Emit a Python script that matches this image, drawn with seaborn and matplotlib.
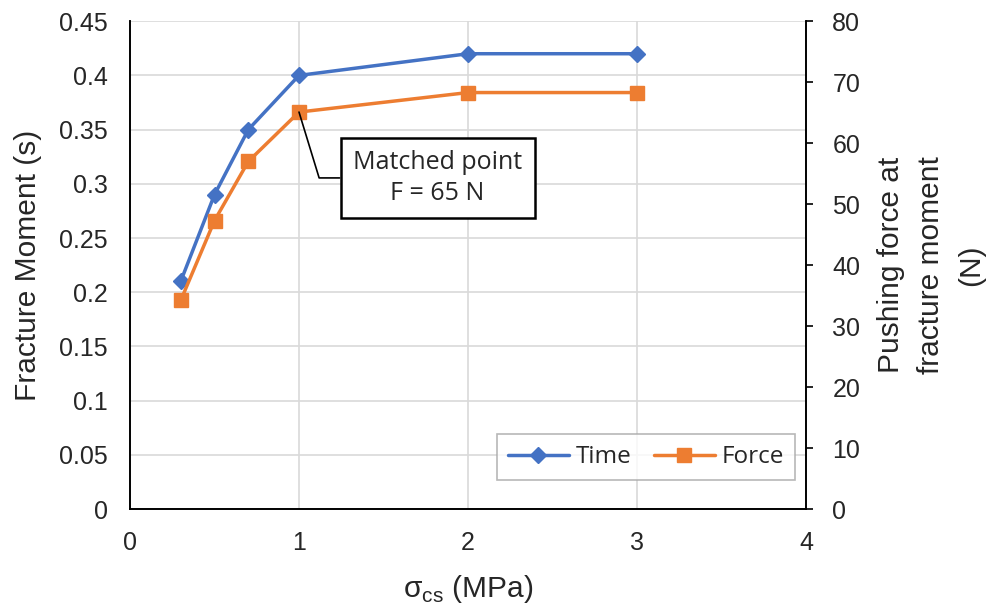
import matplotlib
matplotlib.use("Agg")
import matplotlib.pyplot as plt
import seaborn as sns
import pandas as pd

# Data
sigma_cs = [0.3, 0.5, 0.7, 1.0, 2.0, 3.0]
time_s = [0.21, 0.29, 0.35, 0.40, 0.42, 0.42]
force_n = [34.2, 47.3, 57.0, 65.1, 68.3, 68.3]
x_ticks = [0, 1, 2, 3, 4]
left_ticks = [0, 0.05, 0.1, 0.15, 0.2, 0.25, 0.3, 0.35, 0.4, 0.45]
left_tick_labels = ["0", "0.05", "0.1", "0.15", "0.2", "0.25", "0.3", "0.35", "0.4", "0.45"]
right_ticks = [0, 10, 20, 30, 40, 50, 60, 70, 80]
series_names = ["Time", "Force"]
annot_text = "Matched point\nF = 65 N"
annot_point = (1.0, 65.1)

sns.set_theme(style="white")
plt.rcParams['font.family'] = ['Liberation Sans', 'DejaVu Sans']
SOFT = ['Open Sans', 'DejaVu Sans']

df = pd.DataFrame({"sigma": sigma_cs, "time": time_s, "force": force_n})

BLUE = "#4472C4"
ORANGE = "#ED7D31"
TXT = "#262626"
GRID = "#D9D9D9"

fig = plt.figure(figsize=(9.97, 6.06), dpi=100)
ax = fig.add_axes([0.1304, 0.16, 0.678, 0.805])
ax2 = ax.twinx()

sns.lineplot(data=df, x="sigma", y="time", ax=ax, color=BLUE, marker="D",
             markersize=8.5, markeredgewidth=1, markeredgecolor=BLUE,
             linewidth=2.5, label=series_names[0], legend=False)
sns.lineplot(data=df, x="sigma", y="force", ax=ax2, color=ORANGE, marker="s",
             markersize=10.5, markeredgewidth=1, markeredgecolor=ORANGE,
             linewidth=2.5, label=series_names[1], legend=False)

ax.set_xlim(0, 4)
ax.set_ylim(0, 0.45)
ax2.set_ylim(0, 80)
ax.set_xticks(x_ticks)
ax.set_xticklabels([str(t) for t in x_ticks])
ax.set_yticks(left_ticks)
ax.set_yticklabels(left_tick_labels)
ax2.set_yticks(right_ticks)

ax.grid(True, color=GRID, linewidth=1.2)
ax.set_axisbelow(True)
ax2.grid(False)

for a in (ax, ax2):
    a.spines['top'].set_visible(False)
    for s in ('left', 'right', 'bottom'):
        a.spines[s].set_color("black")
        a.spines[s].set_linewidth(1.2)

ax.tick_params(axis='x', length=0, pad=16, labelsize=18, labelcolor=TXT)
ax.tick_params(axis='y', length=0, pad=16, labelsize=18, labelcolor=TXT)
ax2.tick_params(axis='y', length=5, width=1.2, color="black", direction='out',
                pad=14, labelsize=18, labelcolor=TXT)

ax.set_xlabel("σ$_{\\mathregular{cs}}$ (MPa)", fontsize=21.5, color=TXT, labelpad=13)
ax.set_ylabel("Fracture Moment (s)", fontsize=21.5, color=TXT, labelpad=12)
ax2.set_ylabel("Pushing force at\nfracture moment\n(N)", fontsize=21.5, color=TXT,
               labelpad=12, linespacing=1.55)

ax2.annotate(annot_text, xy=annot_point, xytext=(1.82, 54.3), textcoords='data',
             ha='center', va='center', fontsize=18, color=TXT, linespacing=1.3,
             family=SOFT,
             bbox=dict(boxstyle="square,pad=0.5", fc="white", ec="black", lw=1.8),
             arrowprops=dict(arrowstyle='-', color='black', lw=1.2,
                             connectionstyle="angle,angleA=0,angleB=107,rad=0",
                             shrinkA=0, shrinkB=0))

h1, l1 = ax.get_legend_handles_labels()
h2, l2 = ax2.get_legend_handles_labels()
leg = ax2.legend(h1 + h2, l1 + l2, loc='lower right', bbox_to_anchor=(0.984, 0.059),
                 ncol=2, frameon=True, fancybox=False, borderaxespad=0,
                 prop={'family': SOFT, 'size': 17.5},
                 handlelength=2.5, columnspacing=0.9, handletextpad=0.3,
                 borderpad=0.45)
leg.get_frame().set_edgecolor("#A6A6A6")
leg.get_frame().set_linewidth(1.2)
for t in leg.get_texts():
    t.set_color(TXT)

fig.savefig("out.png", dpi=100)
